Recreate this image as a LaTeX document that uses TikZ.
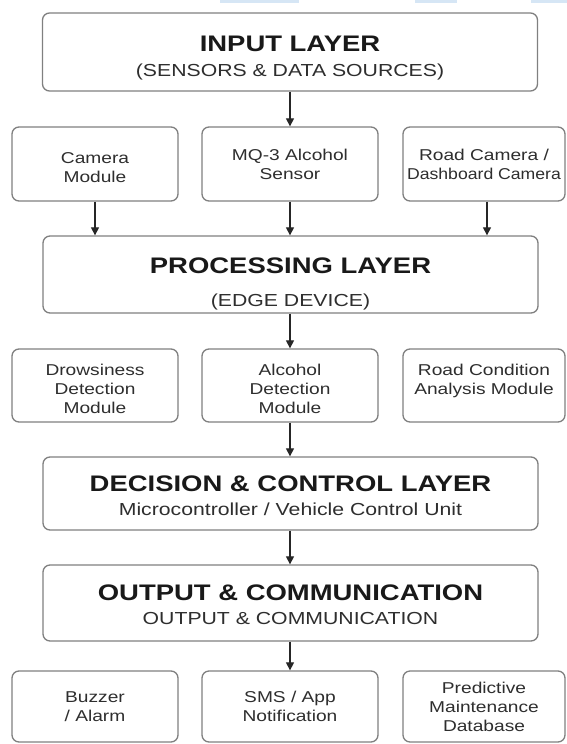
\documentclass[tikz,border=0pt]{standalone}
\usepackage{fontspec}
\usetikzlibrary{arrows.meta,calc}
\newfontfamily\diagfont[FakeStretch=1.22]{Liberation Sans}
\definecolor{boxline}{HTML}{808080}
\definecolor{txtgrey}{HTML}{2E2E2E}
\definecolor{tabblue}{HTML}{D6E6F5}

\begin{document}
\begin{tikzpicture}[x=1pt,y=-1pt,
  box/.style={draw=boxline, line width=1.3pt, rounded corners=7pt, fill=white, inner sep=0pt},
  layerbox/.style={box, minimum width=495pt},
  titletext/.style={font=\diagfont\bfseries\fontsize{22.5}{26}\selectfont, text=black!90, inner sep=0pt},
  subtext/.style={font=\diagfont\fontsize{17.4}{20}\selectfont, text=txtgrey, inner sep=0pt},
  smalltext/.style={font=\diagfont\fontsize{15.7}{19}\selectfont, text=txtgrey, align=center, inner sep=0pt},
  flow/.style={-{Triangle[length=8pt,width=8pt]}, line width=1.2pt, draw=black!85}
]
% page background
\fill[white] (0,0) rectangle (567,744);
\useasboundingbox (0,0) rectangle (567,744);

% thin tabs along the top edge
\fill[tabblue] (220,0) rectangle (299,3);
\fill[tabblue] (415,0) rectangle (457,3);
\fill[tabblue] (531,0) rectangle (567,3);

% ---------- input layer ----------
\node[layerbox, minimum height=78pt] (inl) at (290,52) {};
\node[titletext, anchor=base] (inltitle) at (290,51) {INPUT LAYER};
\node[subtext, anchor=base] (inlsub) at (290,76) {(SENSORS \& DATA SOURCES)};

% sensors
\node[box, minimum width=166pt, minimum height=74pt] (cam1) at (95,164) {};
\node[smalltext] (cam1txt) at ($(cam1.center)+(0,3.5)$) {Camera\\Module};
\node[box, smalltext, minimum width=176pt, minimum height=74pt] (cam2) at (290,164) {MQ-3 Alcohol\\Sensor};
\node[box, smalltext, minimum width=162pt, minimum height=74pt] (cam3) at (484,164)
  {Road Camera /\\\scalebox{0.92}[1]{Dashboard Camera}};

% ---------- processing layer ----------
\node[layerbox, minimum height=77pt] (proc) at (290.5,274.5) {};
\node[titletext, anchor=base] (proctitle) at (290.5,273) {PROCESSING LAYER};
\node[subtext, anchor=base] (procsub) at (290.5,306) {(EDGE DEVICE)};

% analysis modules
\node[box, minimum width=166pt, minimum height=73pt] (mod1) at (95,385.5) {};
\node[smalltext] (mod1txt) at ($(mod1.center)+(0,3)$) {Drowsiness\\Detection\\Module};
\node[box, minimum width=176pt, minimum height=73pt] (mod2) at (290,385.5) {};
\node[smalltext] (mod2txt) at ($(mod2.center)+(0,3)$) {Alcohol\\Detection\\Module};
\node[box, minimum width=162pt, minimum height=73pt] (mod3) at (484,385.5) {};
\node[smalltext] (mod3txt) at ($(mod3.center)+(0,-5)$) {Road Condition\\Analysis Module};

% ---------- decision layer ----------
\node[layerbox, minimum height=73pt] (dec) at (290.5,493.5) {};
\node[titletext, anchor=base] (dectitle) at (290.5,491) {DECISION \& CONTROL LAYER};
\node[subtext, anchor=base] (decsub) at (290.5,515) {Microcontroller / Vehicle Control Unit};

% ---------- output layer ----------
\node[layerbox, minimum height=76pt] (outl) at (290.5,603) {};
\node[titletext, anchor=base] (outtitle) at (290.5,600) {OUTPUT \& COMMUNICATION};
\node[subtext, anchor=base] (outsub) at (290.5,624) {OUTPUT \& COMMUNICATION};

% outputs
\node[box, smalltext, minimum width=166pt, minimum height=71pt] (act1) at (95,706.5) {Buzzer\\/ Alarm};
\node[box, smalltext, minimum width=176pt, minimum height=71pt] (act2) at (290,706.5) {SMS / App\\Notification};
\node[box, smalltext, minimum width=162pt, minimum height=71pt] (act3) at (484,706.5) {Predictive\\Maintenance\\Database};

% ---------- connectors ----------
\draw[flow] (inl.south -| cam2.north) -- (cam2.north);
\draw[flow] (cam1.south) -- (cam1.south |- proc.north);
\draw[flow] (cam2.south) -- (cam2.south |- proc.north);
\draw[flow] ([xshift=3pt]cam3.south) -- ([xshift=3pt]cam3.south |- proc.north);
\draw[flow] (proc.south -| mod2.north) -- (mod2.north);
\draw[flow] (mod2.south) -- (mod2.south |- dec.north);
\draw[flow] (dec.south -| mod2.north) -- (mod2.north |- outl.north);
\draw[flow] (outl.south -| act2.north) -- (act2.north);
\end{tikzpicture}
\end{document}
